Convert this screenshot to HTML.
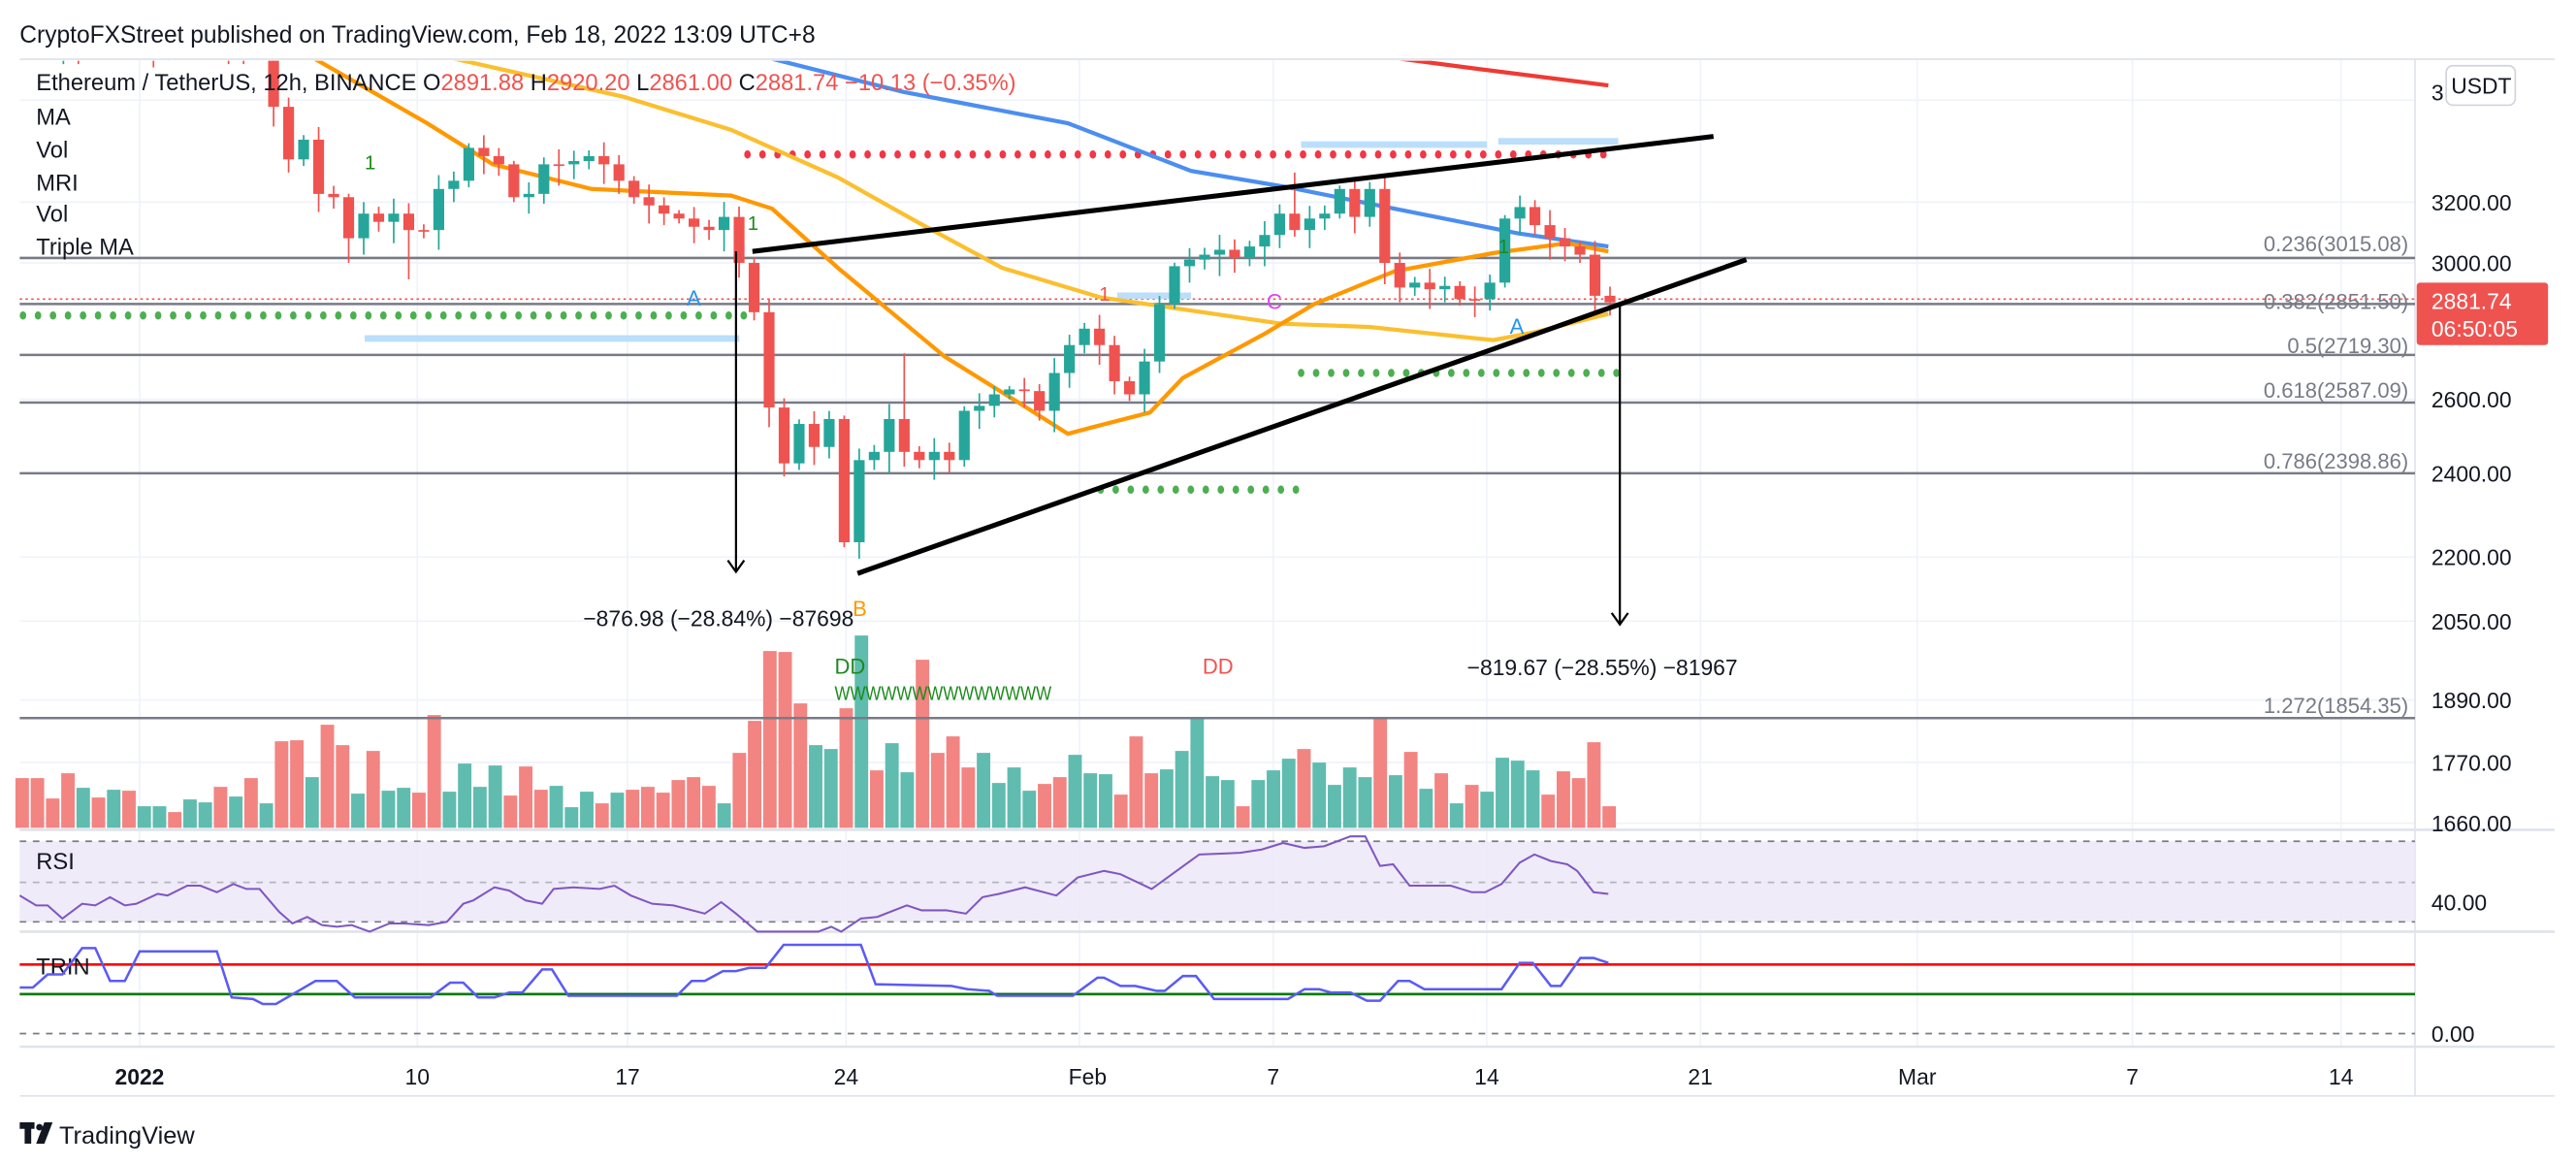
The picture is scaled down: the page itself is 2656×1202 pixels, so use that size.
<!DOCTYPE html>
<html><head><meta charset="utf-8"><style>
html,body{margin:0;padding:0;background:#fff;}
svg{display:block;font-family:"Liberation Sans",sans-serif;}
</style></head><body>
<svg id="s" width="2656" height="1202" viewBox="0 0 1568 709.6" preserveAspectRatio="none" xmlns="http://www.w3.org/2000/svg">
<defs><clipPath id="mp"><rect x="12" y="37" width="1458" height="468"/></clipPath></defs>
<rect width="1568" height="709.6" fill="#fff"/>
<text x="12" y="26" font-size="14.5" fill="#131722">CryptoFXStreet published on TradingView.com, Feb 18, 2022 13:09 UTC+8</text>
<g id="grid" stroke="#f0f3fa" stroke-width="1"></g>
<line x1="12" y1="36" x2="1555" y2="36" stroke="#e0e3eb"/>
<line x1="1470" y1="36" x2="1470" y2="667" stroke="#e0e3eb"/>
<line x1="12" y1="505" x2="1555" y2="505" stroke="#e0e3eb" stroke-width="1.5"/>
<line x1="12" y1="567" x2="1555" y2="567" stroke="#e0e3eb" stroke-width="1.5"/>
<line x1="12" y1="637" x2="1555" y2="637" stroke="#e0e3eb" stroke-width="1.5"/>
<line x1="12" y1="667" x2="1555" y2="667" stroke="#e0e3eb"/>
<rect x="12" y="512" width="1458" height="49" fill="#ede8f7" opacity="0.85"/>
<g stroke="#787b86" stroke-dasharray="4,4" stroke-width="1">
<line x1="12" y1="512" x2="1470" y2="512"/><line x1="12" y1="537" x2="1470" y2="537" stroke="#b2b5be"/><line x1="12" y1="561" x2="1470" y2="561"/>
<line x1="12" y1="629" x2="1470" y2="629"/></g>
<line x1="12" y1="587" x2="1470" y2="587" stroke="#ff0000" stroke-width="1.5"/>
<line x1="12" y1="605" x2="1470" y2="605" stroke="#007a00" stroke-width="1.5"/>
<g id="vol"></g>
<g stroke="#787b86" stroke-width="1.5">
<line x1="12" y1="157" x2="1470" y2="157"/><line x1="12" y1="185" x2="1470" y2="185"/>
<line x1="12" y1="216" x2="1470" y2="216"/><line x1="12" y1="245" x2="1470" y2="245"/>
<line x1="12" y1="288" x2="1470" y2="288"/><line x1="12" y1="437" x2="1470" y2="437"/></g>
<g font-size="13" fill="#787b86" text-anchor="end">
<text x="1466" y="153">0.236(3015.08)</text><text x="1466" y="188">0.382(2851.50)</text>
<text x="1466" y="215">0.5(2719.30)</text><text x="1466" y="242">0.618(2587.09)</text>
<text x="1466" y="285">0.786(2398.86)</text><text x="1466" y="434">1.272(1854.35)</text></g>
<line x1="12" y1="182" x2="1470" y2="182" stroke="#ef5350" stroke-dasharray="1.5,2" stroke-width="1"/>
<g fill="#bbdefb"><rect x="222" y="204" width="228" height="4"/><rect x="792" y="86" width="113" height="4"/><rect x="912" y="84" width="73" height="4"/><rect x="680" y="178" width="45" height="4"/></g>
<g id="dots"></g>
<g clip-path="url(#mp)">
<polyline fill="none" stroke="#ef3a33" stroke-width="2.5" points="790,32 824,32 900,42 979,52"/>
<polyline fill="none" stroke="#4c8ef0" stroke-width="2.5" points="455,32 550,56 650,75 725,104 784,114 859,129 924,142 979,150"/>
<polyline fill="none" stroke="#fbbf2f" stroke-width="2.5" points="260,32 380,59 445,79 510,108 560,136 610,163 670,181 780,197 834,199 909,207 935,202 979,191"/>
<polyline fill="none" stroke="#ff9800" stroke-width="2.5" points="185,32 260,75 300,100 360,115 445,119 470,127 490,145 510,163 575,217 620,245 650,264 665,260 700,251 720,230 770,203 800,185 849,165 909,154 954,148 979,153"/>
<g id="candles"></g>
</g>
<line x1="458" y1="153" x2="1043" y2="83" stroke="#000" stroke-width="3"/>
<line x1="522" y1="349" x2="1063" y2="158" stroke="#000" stroke-width="3"/>
<g stroke="#000" stroke-width="1.3" fill="none">
<line x1="448" y1="153" x2="448" y2="348"/><polyline points="443,341 448,348 453,341"/>
<line x1="986" y1="185" x2="986" y2="380"/><polyline points="981,373 986,380 991,373"/></g>
<text x="355" y="381" font-size="13.5" fill="#131722">−876.98 (−28.84%) −87698</text>
<text x="893" y="411" font-size="13.5" fill="#131722">−819.67 (−28.55%) −81967</text>
<text x="508" y="410" font-size="13" fill="#1b8a1b">DD</text>
<text x="508" y="426" font-size="12" fill="#1b8a1b" textLength="132" lengthAdjust="spacingAndGlyphs">WWWWWWWWWWWWWW</text>
<text x="732" y="410" font-size="13" fill="#ef5350">DD</text>
<text x="418" y="186" font-size="13" fill="#2196f3">A</text>
<text x="919" y="203" font-size="13" fill="#2196f3">A</text>
<text x="771" y="188" font-size="13" fill="#e040fb">C</text>
<text x="519" y="375" font-size="13" fill="#ff9800">B</text>
<text x="222" y="103" font-size="12" fill="#1b8a1b">1</text>
<text x="455" y="140" font-size="12" fill="#1b8a1b">1</text>
<text x="669" y="183" font-size="12" fill="#ef5350">1</text>
<text x="912" y="154" font-size="12" fill="#1b8a1b">1</text>
<g font-size="14" fill="#131722">
<text x="22" y="55">Ethereum / TetherUS, 12h, BINANCE  O<tspan fill="#ef5350">2891.88</tspan>  H<tspan fill="#ef5350">2920.20</tspan>  L<tspan fill="#ef5350">2861.00</tspan>  C<tspan fill="#ef5350">2881.74  −10.13 (−0.35%)</tspan></text>
<text x="22" y="76">MA</text><text x="22" y="96">Vol</text><text x="22" y="116">MRI</text><text x="22" y="135">Vol</text><text x="22" y="155">Triple MA</text>
<text x="22" y="529">RSI</text><text x="22" y="593">TRIN</text></g>
<polyline fill="none" stroke="#7e57c2" stroke-width="1.2" points="12,545 22,551 29,551 38,559 50,550 58,551 67,546 76,551 83,550 96,544 102,545 114,539 122,539 132,543 142,538 150,541 158,541 170,555 178,562 187,558 196,563 205,564 214,563 225,567 237,562 246,562 261,563 272,561 282,550 288,548 301,540 310,542 320,548 330,550 337,541 349,540 365,541 374,539 384,545 397,550 410,551 429,556 439,549 448,556 461,567 498,567 506,564 512,567 524,559 534,558 552,551 561,554 576,554 588,556 598,546 608,544 624,540 643,545 656,534 672,530 682,532 701,541 730,520 755,519 768,517 781,513 794,516 806,515 822,509 831,509 840,527 848,526 858,539 883,539 896,543 904,543 914,538 925,525 934,520 944,524 954,526 960,530 970,543 979,544"/>
<polyline fill="none" stroke="#5b5bf5" stroke-width="1.5" points="12,601 20,601 29,593 38,593 50,577 58,577 67,597 76,597 85,579 132,579 141,607 154,608 160,611 168,611 192,597 205,597 216,607 262,607 274,598 282,598 291,607 301,607 310,604 318,604 330,590 336,590 346,606 412,606 421,597 429,597 440,591 448,591 456,589 466,589 477,575 524,575 533,599 579,600 589,602 602,603 607,606 653,606 668,595 672,595 682,600 691,600 704,603 709,603 720,594 728,594 739,608 784,608 794,602 803,602 810,604 822,604 832,609 840,609 851,597 858,597 867,602 914,602 925,586 933,586 944,600 950,600 962,583 970,583 979,586"/>
<g font-size="13.5" fill="#131722">
<text x="1480" y="61">3</text><text x="1480" y="128">3200.00</text><text x="1480" y="165">3000.00</text>
<text x="1480" y="248">2600.00</text><text x="1480" y="293">2400.00</text><text x="1480" y="344">2200.00</text>
<text x="1480" y="383">2050.00</text><text x="1480" y="431">1890.00</text><text x="1480" y="469">1770.00</text>
<text x="1480" y="506">1660.00</text><text x="1480" y="554">40.00</text><text x="1480" y="634">0.00</text></g>
<rect x="1489" y="40" width="42" height="24" rx="4" fill="#fff" stroke="#d1d4dc"/>
<text x="1492" y="57" font-size="13.5" fill="#131722">USDT</text>
<rect x="1471" y="172" width="80" height="38" rx="2" fill="#ef5350"/>
<text x="1480" y="188" font-size="13.5" fill="#fff">2881.74</text>
<text x="1480" y="205" font-size="13.5" fill="#fff">06:50:05</text>
<g font-size="13.5" fill="#131722" text-anchor="middle">
<text x="85" y="660" font-weight="bold">2022</text><text x="254" y="660">10</text><text x="382" y="660">17</text>
<text x="515" y="660">24</text><text x="662" y="660">Feb</text><text x="775" y="660">7</text>
<text x="905" y="660">14</text><text x="1035" y="660">21</text><text x="1167" y="660">Mar</text>
<text x="1298" y="660">7</text><text x="1425" y="660">14</text></g>
<g fill="#131722"><rect x="12" y="683" width="9" height="4"/><rect x="15" y="683" width="4" height="13"/><circle cx="24" cy="686" r="2"/><polygon points="27,683 32,683 27,696 22,696"/></g>
<text x="36" y="696" font-size="15" fill="#131722">TradingView</text>
</svg>
<script>
const NS="http://www.w3.org/2000/svg";
function el(p,t,a){const e=document.createElementNS(NS,t);for(const k in a)e.setAttribute(k,a[k]);document.getElementById(p).appendChild(e);return e;}
[85,254,382,515,657,775,905,1035,1167,1298,1425].forEach(x=>el('grid','line',{x1:x,y1:36,x2:x,y2:637}));
[61,123,160,243,288,339,378,426,464,501].forEach(y=>el('grid','line',{x1:12,y1:y,x2:1470,y2:y}));
function dots(y,x1,x2,c){for(let x=x1;x<=x2;x+=9.14)el('dots','ellipse',{cx:x,cy:y,rx:2,ry:2.5,fill:c});}
dots(94,455,985,'#f23645');dots(192,14,455,'#4caf50');dots(227,792,985,'#4caf50');dots(298,670,790,'#4caf50');
const C=[22,18,26,20,30,24,16,28,22,30,26,20,24,18,26,30,28,
65,97,85,118,120,145,130,135,130,140,140,115,110,90,95,100,120,118,100,100,98,95,100,110,120,125,130,133,138,140,132,160,190,248,282,258,272,255,330,280,275,255,275,280,275,280,250,247,240,237,238,250,227,210,200,210,232,240,220,185,162,158,155,152,157,150,143,130,140,133,130,115,132,115,160,175,172,176,174,182,182,172,133,126,137,145,150,155,180,184];
const NC=C.length;
for(let i=0;i<NC;i++){
 const x=980-(NC-1-i)*9.14;
 const o=i==0?C[0]+4:C[i-1], c=C[i];
 const up=c<o; const col=up?'#26a69a':'#ef5350';
 const top=Math.min(o,c), bot=Math.max(o,c);
 const wick=3+((i*7)%11);
 let hi=top-wick*0.7, lo=bot+wick;
 if(i==59)hi=215; if(i==26)lo=170; if(i==22)lo=160; if(i==85)hi=105;
 el('candles','line',{x1:x,y1:hi,x2:x,y2:lo,stroke:col,'stroke-width':1});
 el('candles','rect',{x:x-3.3,y:top,width:6.6,height:Math.max(1,bot-top),fill:col});
}
const V="R426 R426 R489 R411 G456 R486 G462 R465 G513 G513 R531 G492 G501 R453 G483 R426 G504 R312 R309 G423 R261 R324 G474 R342 G465 G456 R471 R231 G468 G381 G453 G387 R480 R390 R462 G450 G516 G468 R504 G471 R462 R453 R471 R432 R423 R450 G504 R348 R249 R33 R36 R195 G324 G336 R210 G-15 R402 G318 G408 R60 R348 R297 R393 G348 G441 G393 G465 R444 R423 G354 G411 G414 R477 R297 R411 G399 G342 G243 G420 G432 R513 G432 G402 G366 R336 G378 G447 G393 G423 R243 G417 R345 G459 R411 G504 R447 G468 G363 G372 G402 R477 R405 R426 R315 R513".split(" ");
const N=V.length, sp=(979.5-13.5)/(N-1);
for(let i=0;i<N;i++){
 const x=13.5+i*sp;
 const v=V[i], vz=parseFloat(v.slice(1));
 const vy=389.7+vz*0.1968;
 el('vol','rect',{x:x-4.1,y:vy,width:8.2,height:Math.max(0,503.8-vy),fill:v[0]=='G'?'#5fbcaf':'#f28482'});
}
</script>
</body></html>
